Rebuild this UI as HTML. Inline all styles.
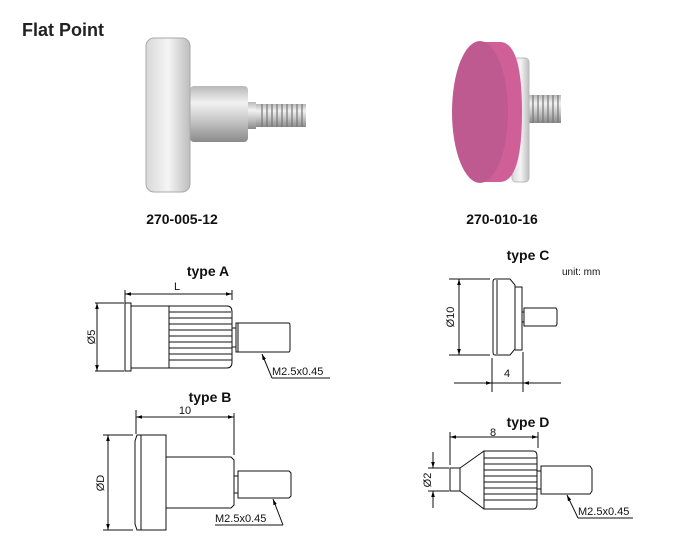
<!DOCTYPE html>
<html><head><style>body{margin:0;background:#fff}svg{display:block}text{font-family:"Liberation Sans",Arial,sans-serif}</style></head>
<body>
<svg width="686" height="550" viewBox="0 0 686 550" xmlns="http://www.w3.org/2000/svg">
<defs>
<linearGradient id="met" x1="0" y1="0" x2="0" y2="1">
<stop offset="0" stop-color="#b8b8b8"/><stop offset="0.3" stop-color="#f2f2f2"/><stop offset="0.6" stop-color="#c9c9c9"/><stop offset="1" stop-color="#8a8a8a"/></linearGradient>
<linearGradient id="met2" x1="0" y1="0" x2="1" y2="0">
<stop offset="0" stop-color="#d8d8d8"/><stop offset="0.5" stop-color="#f5f5f5"/><stop offset="1" stop-color="#bdbdbd"/></linearGradient>
<marker id="ar" viewBox="0 0 10 10" refX="10" refY="5" markerWidth="6" markerHeight="6" orient="auto-start-reverse"><path d="M0,2L10,5L0,8z" fill="#000"/></marker>
</defs>
<text x="22" y="36" font-size="18" font-weight="bold" fill="#222">Flat Point</text>
<!-- left photo -->
<rect x="190" y="86" width="58" height="56" rx="4" fill="url(#met)"/>
<rect x="248" y="102" width="8" height="27" fill="url(#met)"/>
<rect x="256" y="104" width="50" height="23" fill="url(#met)"/>
<g stroke="#777" stroke-width="1.2"><path d="M262 104v23M267 104v23M272 104v23M277 104v23M282 104v23M287 104v23M292 104v23M297 104v23M302 104v23"/></g>
<rect x="146" y="38" width="44" height="154" rx="8" fill="url(#met2)" stroke="#aaa"/>
<!-- pink photo -->
<rect x="528" y="95" width="33" height="28" fill="url(#met)"/>
<g stroke="#777" stroke-width="1.2"><path d="M533 95v28M538 95v28M543 95v28M548 95v28M553 95v28M558 95v28"/></g>
<rect x="512" y="58" width="17" height="124" rx="4" fill="url(#met2)" stroke="#bbb"/>
<path d="M480 42 L500 42 Q522 42 522 112 Q522 182 500 182 L480 182 Z" fill="#d05f97"/>
<ellipse cx="480" cy="112" rx="28" ry="71" fill="#bf5a90"/>
<text x="182" y="224" font-size="14" font-weight="bold" text-anchor="middle" fill="#111">270-005-12</text>
<text x="502" y="224" font-size="14" font-weight="bold" text-anchor="middle" fill="#111">270-010-16</text>
<g fill="none" stroke="#111" stroke-width="1">
<!-- type A -->
<path d="M125 290V303M232 290V300"/>
<line x1="125" y1="294" x2="232" y2="294" marker-start="url(#ar)" marker-end="url(#ar)"/>
<rect x="125" y="303" width="6" height="68"/>
<rect x="131" y="306" width="38" height="62"/>
<path d="M169 306H227Q232 306 232 312V362Q232 368 227 368H169"/>
<path d="M169 312H231M169 318H232M169 324H232M169 330H232M169 336H232M169 342H232M169 348H232M169 354H232M169 360H232"/>
<path d="M236 323H289Q290 323 290 326V349Q290 352 289 352H236ZM232 328H236M232 347H236M238 323V352"/>
<path d="M95 303H124M95 371H124"/>
<line x1="97" y1="303" x2="97" y2="371" marker-start="url(#ar)" marker-end="url(#ar)"/>
<line x1="272" y1="378" x2="262" y2="354" marker-end="url(#ar)"/>
<path d="M272 378H330"/>
<!-- type B -->
<path d="M136 410V434M234 413V455"/>
<line x1="136" y1="417" x2="234" y2="417" marker-start="url(#ar)" marker-end="url(#ar)"/>
<path d="M137 435H166V530H137L135 524V441Z"/>
<path d="M141 435V530"/>
<path d="M166 457H231L234 460V505L231 508H166"/>
<path d="M238 471H289L291 473V496L289 498H238ZM234 476H238M234 493H238"/>
<path d="M103 435H133M103 530H133"/>
<line x1="108" y1="435" x2="108" y2="530" marker-start="url(#ar)" marker-end="url(#ar)"/>
<line x1="283" y1="525" x2="273" y2="499" marker-end="url(#ar)"/>
<path d="M215 525H283"/>
<!-- type C -->
<path d="M495 279H510L515 285V349L510 355H495Q493 355 493 352V282Q493 279 495 279Z M497 280V354"/>
<path d="M515 287H522V350H515"/>
<path d="M524 308H556L557 310V324L556 326H524ZM522 312H524M522 322H524"/>
<path d="M449 279H490M449 355H490"/>
<line x1="459" y1="279" x2="459" y2="355" marker-start="url(#ar)" marker-end="url(#ar)"/>
<path d="M492 358V392M523 352V392M454 383H561"/>
<line x1="478" y1="383" x2="492" y2="383" marker-end="url(#ar)"/>
<line x1="537" y1="383" x2="523" y2="383" marker-end="url(#ar)"/>
<!-- type D -->
<path d="M450 432V465M538 432V448"/>
<line x1="450" y1="437" x2="538" y2="437" marker-start="url(#ar)" marker-end="url(#ar)"/>
<path d="M450 468H460V491H450Z"/>
<path d="M460 468L484 451M460 491L484 509"/>
<path d="M484 451H533Q537 451 537 456V504Q537 509 533 509H484Z"/>
<path d="M484 458H537M484 464H537M484 470H537M484 476H537M484 482H537M484 488H537M484 494H537M484 500H537"/>
<path d="M541 466H590L592 469V491L590 494H541ZM537 471H541M537 489H541"/>
<path d="M428 468H449M428 491H449"/>
<line x1="433" y1="452" x2="433" y2="468" marker-end="url(#ar)"/>
<line x1="433" y1="508" x2="433" y2="491" marker-end="url(#ar)"/>
<line x1="578" y1="518" x2="567" y2="495" marker-end="url(#ar)"/>
<path d="M578 518H633"/>
</g>
<g fill="#111">
<text x="208" y="276" font-size="14" font-weight="bold" text-anchor="middle">type A</text>
<text x="177" y="290" font-size="11" text-anchor="middle">L</text>
<text transform="translate(95 337) rotate(-90)" font-size="11" text-anchor="middle">Ø5</text>
<text x="272" y="375" font-size="11">M2.5x0.45</text>
<text x="210" y="402" font-size="14" font-weight="bold" text-anchor="middle">type B</text>
<text x="185" y="414" font-size="11" text-anchor="middle">10</text>
<text transform="translate(104 483) rotate(-90)" font-size="11" text-anchor="middle">ØD</text>
<text x="215" y="522" font-size="11">M2.5x0.45</text>
<text x="528" y="260" font-size="14" font-weight="bold" text-anchor="middle">type C</text>
<text x="562" y="275" font-size="10">unit: mm</text>
<text transform="translate(454 317) rotate(-90)" font-size="11" text-anchor="middle">Ø10</text>
<text x="507" y="377" font-size="11" text-anchor="middle">4</text>
<text x="528" y="427" font-size="14" font-weight="bold" text-anchor="middle">type D</text>
<text x="493" y="436" font-size="11" text-anchor="middle">8</text>
<text transform="translate(431 480) rotate(-90)" font-size="11" text-anchor="middle">Ø2</text>
<text x="578" y="515" font-size="11">M2.5x0.45</text>
</g>
</svg>
</body></html>
